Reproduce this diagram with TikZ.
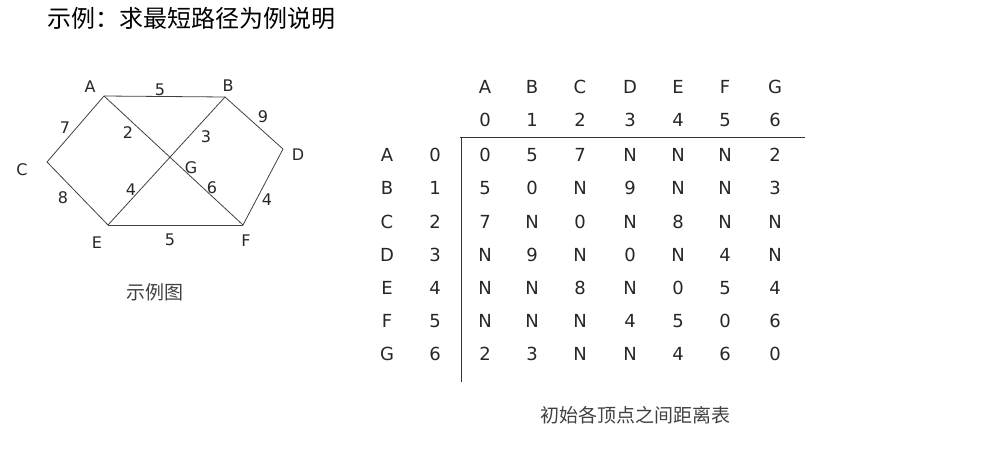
\documentclass[tikz,border=0pt]{standalone}
\usepackage{fontspec}
\setmainfont{DejaVu Sans}
\newfontfamily\cjk{Noto Sans CJK SC}
\usetikzlibrary{calc}
\tikzset{
	edge/.style={line width=0.8pt,black!75},
	rule/.style={line width=0.8pt,black!80},
	vname/.style={font=\fontsize{16}{16}\selectfont,text=black!85,inner sep=0pt},
	weight/.style={font=\fontsize{16}{16}\selectfont,text=black!85,inner sep=0pt},
	cell/.style={font=\fontsize{18}{18}\selectfont,text=black!85,inner sep=0pt},
	caption/.style={font=\cjk\fontsize{19}{19}\selectfont,text=black!75,inner sep=0pt},
	title/.style={font=\cjk\fontsize{24}{24}\selectfont,text=black,inner sep=0pt,anchor=west}
}

\begin{document}
\begin{tikzpicture}[x=1pt,y=-1pt]
	\useasboundingbox (0,0) rectangle (990,458);

	\node[title] (title) at (47,18) {示例：求最短路径为例说明};

	% graph
	\coordinate (A) at (104,96);
	\coordinate (B) at (225,97);
	\coordinate (C) at (47,162);
	\coordinate (D) at (283,149);
	\coordinate (E) at (108,225);
	\coordinate (F) at (243,225);
	\coordinate (G) at (166,161);

	\draw[edge] (A)--(B);
	\draw[edge] (A)--(C);
	\draw[edge] (A)--(F);
	\draw[edge] (B)--(E);
	\draw[edge] (B)--(D);
	\draw[edge] (C)--(E);
	\draw[edge] (E)--(F);
	\draw[edge] (D)--(F);

	\node[vname] (lA) at (90,87)  {A};
	\node[vname] (lB) at (228,86) {B};
	\node[vname] (lC) at (22,170) {C};
	\node[vname] (lD) at (298,155) {D};
	\node[vname] (lE) at (97,243) {E};
	\node[vname] (lF) at (246,241) {F};
	\node[vname] (lG) at (191,168) {G};

	\node[weight] (wAB) at (160,90)  {5};
	\node[weight] (wAC) at (65,128)  {7};
	\node[weight] (wAG) at (128,133) {2};
	\node[weight] (wBG) at (206,137) {3};
	\node[weight] (wBD) at (263,117) {9};
	\node[weight] (wCE) at (63,198)  {8};
	\node[weight] (wEG) at (131,190) {4};
	\node[weight] (wGF) at (212,188) {6};
	\node[weight] (wDF) at (267,200) {4};
	\node[weight] (wEF) at (170,240) {5};

	\node[caption] (cap1) at (155,292) {示例图};

	% table
	\foreach \n/\x [count=\i from 0] in {A/485,B/532,C/580,D/630,E/678,F/725,G/775} {
		\node[cell] (h\i) at (\x,87) {\n};
		\node[cell] (k\i) at (\x,120) {\i};
	}
	\foreach \n/\y [count=\i from 0] in {A/155,B/188,C/222,D/255,E/288,F/321,G/354} {
		\node[cell] (r\i) at (387,\y) {\n};
		\node[cell] (q\i) at (435,\y) {\i};
	}
	\foreach \row [count=\j from 0] in {
		{0,5,7,N,N,N,2},
		{5,0,N,9,N,N,3},
		{7,N,0,N,8,N,N},
		{N,9,N,0,N,4,N},
		{N,N,8,N,0,5,4},
		{N,N,N,4,5,0,6},
		{2,3,N,N,4,6,0}} {
		\foreach \v [count=\i from 0] in \row {
			\node[cell] (c\j\i) at (h\i |- q\j) {\v};
		}
	}

	\coordinate (hl) at (460,137);
	\coordinate (hr) at (805,137);
	\coordinate (vt) at (461,137);
	\coordinate (vb) at (461,382);
	\draw[rule] (hl)--(hr);
	\draw[rule] (vt)--(vb);

	\node[caption] (cap2) at (635,415) {初始各顶点之间距离表};
\end{tikzpicture}
\end{document}
